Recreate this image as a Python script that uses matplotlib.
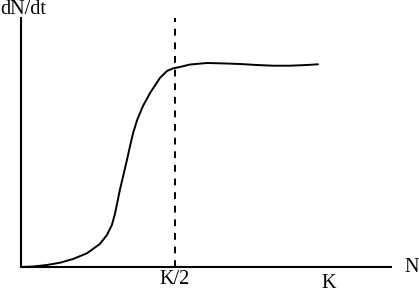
import matplotlib
matplotlib.use("Agg")
import matplotlib.pyplot as plt

# N as fraction of K, dN/dt relative
n_vals = [0.000, 0.039, 0.084, 0.127, 0.169, 0.214, 0.256, 0.279, 0.295, 0.305,
          0.313, 0.321, 0.331, 0.344, 0.354, 0.364, 0.377, 0.396, 0.419, 0.451,
          0.474, 0.494, 0.516, 0.549, 0.604, 0.656, 0.711, 0.766, 0.818, 0.873,
          0.929, 0.964]
rate_vals = [0.000, 0.0025, 0.010, 0.0215, 0.040, 0.0685, 0.115, 0.160, 0.210, 0.265,
             0.325, 0.385, 0.450, 0.535, 0.605, 0.670, 0.735, 0.805, 0.870, 0.945,
             0.980, 0.9935, 1.000, 1.0125, 1.020, 1.018, 1.015, 1.010, 1.0065, 1.0065,
             1.010, 1.0135]
tick_pos = [0.5, 1.0]
tick_labels = ["K/2", "K"]

W, H = 419, 292
fig = plt.figure(figsize=(W / 100, H / 100), dpi=100)
x0, x1, y0, y1 = 21, 391, 267, 18
ax = fig.add_axes([x0 / W, 1 - y0 / H, (x1 - x0) / W, (y0 - y1) / H])
ax.set_xlim(0, (x1 - x0) / 308)
ax.set_ylim(0, (y0 - y1) / 200)

ax.plot(n_vals, rate_vals, color="black", lw=1.4, solid_joinstyle="round",
        solid_capstyle="round")
ax.axvline(0.5, color="black", lw=1.4, ls=(0, (3.5, 3.5)))

for s in ["top", "right"]:
    ax.spines[s].set_visible(False)
for s in ["left", "bottom"]:
    ax.spines[s].set_linewidth(1.5)
ax.set_xticks([])
ax.set_yticks([])

font = dict(family="Liberation Serif", fontsize=14.5, color="black")
fig.text(0 / W, 1 - 9 / H, "dN/dt", ha="left", va="center", **font)
fig.text(412 / W, 1 - 268 / H, "N", ha="center", va="center", **font)
tick_y = [280, 283]
for p, lab, ty in zip(tick_pos, tick_labels, tick_y):
    xpix = x0 + p * 308
    fig.text(xpix / W, 1 - ty / H, lab, ha="center", va="center", **font)

fig.savefig("out.png", dpi=100)
